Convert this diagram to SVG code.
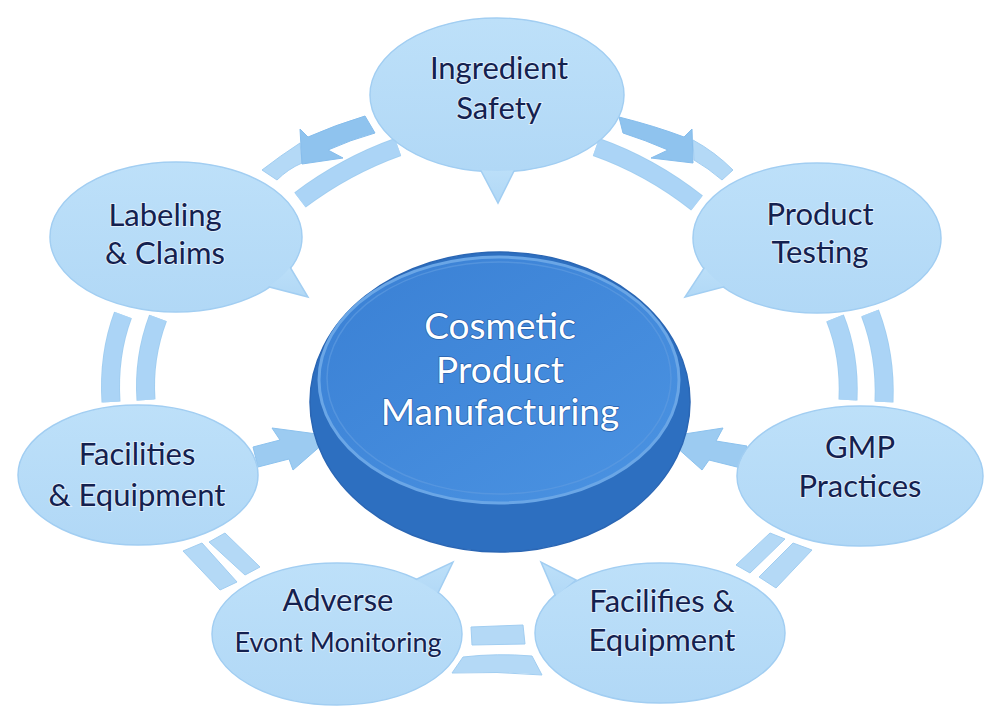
<svg xmlns="http://www.w3.org/2000/svg" width="1000" height="718" viewBox="0 0 1000 718">
  <defs>
    <linearGradient id="nodeFill" x1="0" y1="0" x2="0" y2="1">
      <stop offset="0" stop-color="#bde0f9"/>
      <stop offset="1" stop-color="#b1d8f6"/>
    </linearGradient>
    <linearGradient id="faceFill" x1="0" y1="0" x2="1" y2="1">
      <stop offset="0" stop-color="#3a80d4"/>
      <stop offset="1" stop-color="#4b93e2"/>
    </linearGradient>
    <style>
      .node { fill: url(#nodeFill); stroke: #a2cef2; stroke-width: 1.5; }
      .nodefill { fill: url(#nodeFill); stroke: none; }
      .lbl { font-family: Lato, "Open Sans", "Noto Sans", sans-serif; font-size: 31px; fill: #14214f; text-anchor: middle; stroke: #ffffff; stroke-width: 2; stroke-opacity: 0.55; paint-order: stroke; }
      .clbl { font-family: Lato, "Open Sans", "Noto Sans", sans-serif; font-size: 37px; fill: #ffffff; text-anchor: middle; stroke: #2a62ad; stroke-width: 1.5; paint-order: stroke; }
      .band { fill: #acd5f6; stroke: #98c9f0; stroke-width: 1; opacity: 0.9; }
      .bandS { fill: none; stroke: #acd5f6; opacity: 0.9; }
      .bandO { fill: none; stroke: #98c9f0; opacity: 0.9; }
      .dark { fill: #8fc3ee; stroke: #86bdec; stroke-width: 1; }
      .arrow { fill: #9ccbf1; stroke: #8cc2ee; stroke-width: 1; }
    </style>
  </defs>
  <rect width="1000" height="718" fill="#ffffff"/>

  <g id="connectors">
    <!-- top-left pair -->
    <path class="band" d="M 262,170 Q 280,156 300,143 L 302,163 Q 288,169 277,180 Z"/>
    <path class="dark" d="M 300,129 L 308,137 Q 335,125 365,116 L 375,133 Q 350,140 328,150 L 343,158 L 302,164 Z"/>
    <path class="bandO" stroke-width="19" d="M 398,147 Q 345,166 300,200"/>
    <path class="bandS" stroke-width="17" d="M 398,147 Q 345,166 300,200"/>
    <!-- top-right pair -->
    <path class="band" d="M 693,140 Q 715,152 733,170 L 722,180 Q 708,168 694,160 Z"/>
    <path class="dark" d="M 619,117 Q 655,126 684,137 L 692,129 L 693,163 L 651,158 L 668,150 Q 645,140 623,133 Z"/>
    <path class="bandO" stroke-width="19" d="M 596,147 Q 650,166 697,203"/>
    <path class="bandS" stroke-width="17" d="M 596,147 Q 650,166 697,203"/>
    <!-- left vertical pair -->
    <path class="bandO" stroke-width="19" d="M 123,315 Q 108,355 111,402"/>
    <path class="bandS" stroke-width="17" d="M 123,315 Q 108,355 111,402"/>
    <path class="bandO" stroke-width="19" d="M 158,318 Q 143,358 146,400"/>
    <path class="bandS" stroke-width="17" d="M 158,318 Q 143,358 146,400"/>
    <!-- right vertical pair -->
    <path class="bandO" stroke-width="19" d="M 835,318 Q 850,355 848,400"/>
    <path class="bandS" stroke-width="17" d="M 835,318 Q 850,355 848,400"/>
    <path class="bandO" stroke-width="19" d="M 870,313 Q 886,355 884,402"/>
    <path class="bandS" stroke-width="17" d="M 870,313 Q 886,355 884,402"/>
    <!-- bottom-left pair -->
    <polygon class="band" points="183,551 202,543 237,582 220,590"/>
    <polygon class="band" points="209,542 225,533 260,567 245,575"/>
    <!-- bottom-right pair -->
    <polygon class="band" points="736,565 770,533 785,539 750,573"/>
    <polygon class="band" points="759,577 793,543 812,550 776,588"/>
    <!-- bottom middle pair -->
    <polygon class="band" points="471,627 523,625 525,644 472,645"/>
    <path class="band" d="M 463,657 Q 497,653 532,656 L 542,675 Q 497,671 452,673 Z"/>
    <!-- arrows into center -->
    <path class="arrow" d="M 253,447 L 280,440 L 272,428 L 332,436 L 293,470 L 289,459 L 258,467 Z"/>
    <path class="arrow" d="M 665,437 L 723,428 L 716,441 L 747,446 L 741,468 L 709,460 L 702,470 Z"/>
  </g>

  <g id="center">
    <ellipse cx="500" cy="402" rx="190" ry="150" fill="#2d6fc0" stroke="#2a66b4" stroke-width="1.5"/>
    <ellipse cx="499" cy="380" rx="180" ry="123" fill="url(#faceFill)" stroke="#6aa6e6" stroke-width="3"/>
    <ellipse cx="499" cy="378" rx="172" ry="116" fill="none" stroke="#5c9ae0" stroke-width="1.5" opacity="0.7"/>
    <text class="clbl" x="500" y="339">Cosmetic</text>
    <text class="clbl" x="500" y="383">Product</text>
    <text class="clbl" x="500" y="425">Manufacturing</text>
  </g>

  <g id="ingredient-safety">
    <ellipse class="node" cx="497" cy="95" rx="127" ry="77"/>
    <polygon class="node" points="478,165 517,165 498,203"/>
    <ellipse class="nodefill" cx="497" cy="95" rx="126" ry="76"/>
    <text class="lbl" x="499" y="79">Ingredient</text>
    <text class="lbl" x="499" y="119">Safety</text>
  </g>

  <g id="product-testing">
    <ellipse class="node" cx="817" cy="238" rx="124" ry="75"/>
    <polygon class="node" points="708,262 735,284 685,297"/>
    <ellipse class="nodefill" cx="817" cy="238" rx="123" ry="74"/>
    <text class="lbl" x="820" y="225">Product</text>
    <text class="lbl" x="820" y="263">Testing</text>
  </g>

  <g id="gmp-practices">
    <ellipse class="node" cx="860" cy="476" rx="123" ry="70"/>
    <ellipse class="nodefill" cx="860" cy="476" rx="122" ry="69"/>
    <text class="lbl" x="860" y="458">GMP</text>
    <text class="lbl" x="860" y="497">Practices</text>
  </g>

  <g id="facilifies-equipment">
    <ellipse class="node" cx="660" cy="633" rx="125" ry="70"/>
    <polygon class="node" points="576,580 556,597 541,562"/>
    <ellipse class="nodefill" cx="660" cy="633" rx="124" ry="69"/>
    <text class="lbl" x="662" y="612">Facilifies &amp;</text>
    <text class="lbl" x="662" y="651">Equipment</text>
  </g>

  <g id="adverse-event-monitoring">
    <ellipse class="node" cx="337" cy="634" rx="125" ry="71"/>
    <polygon class="node" points="415,580 436,597 453,562"/>
    <ellipse class="nodefill" cx="337" cy="634" rx="124" ry="70"/>
    <text class="lbl" x="338" y="611">Adverse</text>
    <text class="lbl" x="338" y="652" style="font-size:27px">Evont Monitoring</text>
  </g>

  <g id="facilities-equipment">
    <ellipse class="node" cx="138" cy="475" rx="120" ry="70"/>
    <ellipse class="nodefill" cx="138" cy="475" rx="119" ry="69"/>
    <text class="lbl" x="137" y="465">Facilities</text>
    <text class="lbl" x="137" y="506">&amp; Equipment</text>
  </g>

  <g id="labeling-claims">
    <ellipse class="node" cx="176" cy="237" rx="126" ry="75"/>
    <polygon class="node" points="287,262 262,285 308,297"/>
    <ellipse class="nodefill" cx="176" cy="237" rx="125" ry="74"/>
    <text class="lbl" x="165" y="226">Labeling</text>
    <text class="lbl" x="165" y="264">&amp; Claims</text>
  </g>
</svg>
